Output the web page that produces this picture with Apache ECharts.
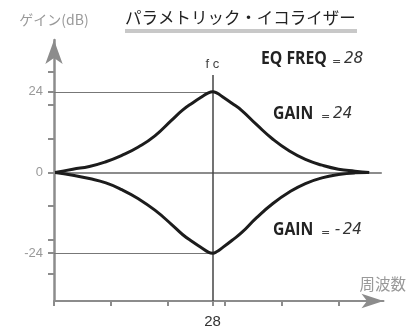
<!DOCTYPE html>
<html>
<head>
<meta charset="utf-8">
<script src="https://cdn.jsdelivr.net/npm/echarts@6/dist/echarts.min.js"></script>
<style>
  html, body { margin: 0; padding: 0; background: #fff; }
  #chart { width: 409px; height: 329px; }
</style>
</head>
<body>
<div id="chart"></div>
<script>
// gain curves, [position on frequency axis, dB]
const boostCurve = [
  [0.02, 0], [0.33, 1.0], [0.62, 1.8], [0.91, 3.2], [1.19, 5.1], [1.48, 7.6],
  [1.77, 10.9], [2.06, 15.5], [2.26, 18.6], [2.43, 20.7], [2.60, 22.6], [2.70, 23.6],
  [2.78, 24], [2.86, 23.6], [2.95, 22.6], [3.12, 20.6], [3.29, 18.5], [3.55, 14.3],
  [3.84, 9.9], [4.13, 6.4], [4.41, 3.9], [4.70, 2.2], [4.99, 1.0], [5.28, 0.4], [5.53, 0]
]
const cutCurve = [
  [0.02, 0], [0.33, -0.8], [0.62, -1.8], [0.91, -3.1], [1.19, -5.1], [1.48, -7.8],
  [1.77, -11.2], [2.06, -15.4], [2.26, -18.5], [2.43, -20.6], [2.60, -22.5], [2.70, -23.6],
  [2.78, -24], [2.86, -23.5], [2.95, -22.4], [3.12, -20.2], [3.29, -17.9], [3.55, -13.5],
  [3.84, -9.2], [4.13, -5.8], [4.41, -3.3], [4.70, -1.6], [4.99, -0.6], [5.28, -0.1], [5.50, 0]
]

const fcPos = 2.78
const eqFreq = 28
const gains = [24, -24]
const xTicks = [0, 1, 2, 3, 4, 5, fcPos]
const yTicks = [-30, -24, -20, -10, 0, 10, 20, 24, 30]
const yLabels = [-24, 0, 24]

const GRAY = '#8c8c8c'
const JP = '"Noto Sans CJK JP", sans-serif'
const SANS = '"Liberation Sans", Arial, sans-serif'
const BOLD = 'bold 17.5px "Open Sans", sans-serif'
const SEG = 'italic 16px "DejaVu Sans Mono", monospace'

const chart = echarts.init(document.getElementById('chart'), null, { renderer: 'canvas' })

const curveLine = { color: '#1c1c1c', width: 3 }

// bold label + "=" + value, like the panel readout
function readout(name, value, x, y, valueX) {
  return [
    { type: 'text', x: x, y: y, scaleX: 0.9, style: { text: name, font: BOLD, fill: '#222', verticalAlign: 'middle' } },
    { type: 'text', x: valueX - 11, y: y + 3, style: { text: '=', font: '11px "DejaVu Sans", sans-serif', fill: '#444', verticalAlign: 'middle' } },
    { type: 'text', x: valueX + 1, y: y, style: { text: String(value), font: SEG, fill: '#333', verticalAlign: 'middle' } }
  ]
}

chart.setOption({
  animation: false,
  grid: { left: 54, right: 20, top: 40, bottom: 27 },
  xAxis: {
    type: 'value',
    min: 0,
    max: 5.78,
    name: '周波数',
    nameLocation: 'end',
    nameGap: -24,
    nameTextStyle: {
      color: '#999', fontSize: 15.5, fontFamily: JP,
      verticalAlign: 'bottom', padding: [0, 0, 9, 0]
    },
    axisLine: {
      onZero: false,
      symbol: ['none', 'arrow'],
      symbolSize: [11, 22],
      lineStyle: { color: GRAY, width: 2 }
    },
    axisTick: {
      customValues: xTicks,
      length: 5,
      lineStyle: { color: GRAY, width: 2 }
    },
    axisLabel: {
      customValues: [fcPos],
      formatter: () => String(eqFreq),
      margin: 13,
      color: '#333',
      fontSize: 15,
      fontFamily: SANS
    },
    splitLine: { show: false }
  },
  yAxis: {
    type: 'value',
    min: -38.2,
    max: 39.4,
    name: 'ゲイン(dB)',
    nameLocation: 'end',
    nameGap: 13,
    nameTextStyle: { color: '#999', fontSize: 14, fontFamily: JP, align: 'center' },
    axisLine: {
      symbol: ['none', 'arrow'],
      symbolSize: [13, 24],
      lineStyle: { color: GRAY, width: 2.5 }
    },
    axisTick: {
      customValues: yTicks,
      length: 6,
      lineStyle: { color: GRAY, width: 2 }
    },
    axisLabel: {
      customValues: yLabels,
      margin: 11,
      color: '#999',
      fontSize: 13,
      fontFamily: SANS
    },
    splitLine: { show: false }
  },
  series: [
    {
      type: 'line',
      data: boostCurve,
      smooth: 0.5,
      showSymbol: false,
      lineStyle: curveLine,
      z: 5,
      markLine: {
        silent: true,
        symbol: 'none',
        animation: false,
        label: { show: false },
        data: [
          [{ coord: [0, 0] }, { coord: [5.75, 0], lineStyle: { color: GRAY, width: 2, type: 'solid' } }],
          [{ coord: [0, gains[0]] }, { coord: [fcPos, gains[0]], lineStyle: { color: '#777', width: 1.2, type: 'solid' } }],
          [{ coord: [0, gains[1]] }, { coord: [fcPos, gains[1]], lineStyle: { color: '#777', width: 1.2, type: 'solid' } }],
          [
            { coord: [fcPos, -38.2] },
            {
              coord: [fcPos, 29],
              lineStyle: { color: '#444', width: 1.5, type: 'solid' },
              label: {
                show: true, position: 'end', formatter: 'f c', distance: 4,
                color: '#444', fontSize: 13, fontFamily: SANS
              }
            }
          ]
        ]
      }
    },
    {
      type: 'line',
      data: cutCurve,
      smooth: 0.5,
      showSymbol: false,
      lineStyle: curveLine,
      z: 5
    }
  ],
  graphic: [
    {
      type: 'text', left: 125, top: 9,
      style: { text: 'パラメトリック・イコライザー', font: '16.5px ' + JP, fill: '#222' }
    },
    {
      type: 'rect', shape: { x: 125, y: 29, width: 232, height: 4 },
      style: { fill: '#c8c8c8' }
    },
    ...readout('EQ FREQ', eqFreq, 261, 59, 343),
    ...readout('GAIN', gains[0], 273, 114, 332),
    ...readout('GAIN', gains[1], 273, 230, 332)
  ]
})
</script>
</body>
</html>
